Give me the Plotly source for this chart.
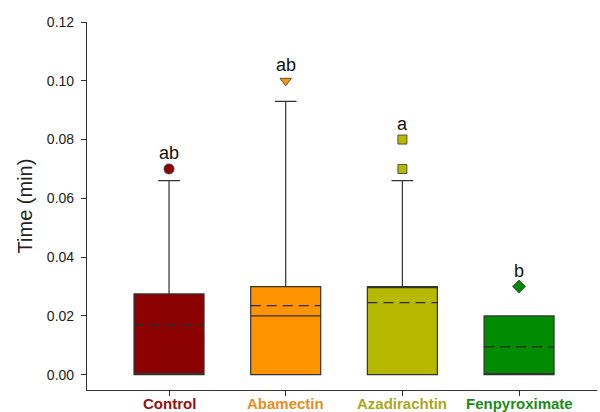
import plotly.graph_objects as go

# Summary statistics per treatment (time in minutes)
treatments = ["Control", "Abamectin", "Azadirachtin", "Fenpyroximate"]
q1 = [0.0, 0.0, 0.0, 0.0]
median = [0.0, 0.020, 0.030, 0.0]
q3 = [0.0275, 0.030, 0.030, 0.020]
lower_whisker = [0.0, 0.0, 0.0, 0.0]
upper_whisker = [0.066, 0.093, 0.066, 0.020]
means = [0.017, 0.0235, 0.0245, 0.0095]

# Outlying observations per treatment
outliers = [[0.070], [0.100], [0.070, 0.080], [0.030]]

# Significance letters
letters = ["ab", "ab", "a", "b"]

fill_colors = ["#8B0000", "#FF9300", "#B7B800", "#008B00"]
label_colors = ["#951010", "#E58D1F", "#A9A81C", "#1A8C1A"]
marker_symbols = ["circle", "triangle-down", "square", "diamond"]
marker_sizes = [10, 10, 9, 10]

BOX_WIDTH = 0.6
FONT = "Liberation Sans, Arial, sans-serif"

fig = go.Figure()

for i, name in enumerate(treatments):
    fig.add_trace(go.Box(
        x=[i],
        q1=[q1[i]], median=[median[i]], q3=[q3[i]],
        lowerfence=[lower_whisker[i]], upperfence=[upper_whisker[i]],
        width=BOX_WIDTH,
        whiskerwidth=0.31,
        fillcolor=fill_colors[i],
        line=dict(color="#333333", width=1.2),
        showlegend=False,
        hoverinfo="skip",
    ))
    # dashed mean line across the box
    fig.add_trace(go.Scatter(
        x=[i - BOX_WIDTH / 2, i + BOX_WIDTH / 2],
        y=[means[i], means[i]],
        mode="lines",
        line=dict(color="#2a2a2a", width=1.3, dash="10px,6px"),
        showlegend=False,
        hoverinfo="skip",
    ))
    fig.add_trace(go.Scatter(
        x=[i] * len(outliers[i]),
        y=outliers[i],
        mode="markers",
        marker=dict(symbol=marker_symbols[i], size=marker_sizes[i],
                    color=fill_colors[i],
                    line=dict(color="#333333", width=0.8)),
        showlegend=False,
        hoverinfo="skip",
    ))
    fig.add_annotation(
        x=i, y=max(outliers[i]), text=letters[i],
        showarrow=False, yanchor="bottom", yshift=4,
        font=dict(family=FONT, size=18, color="#111111"),
    )
    # coloured category label beneath the axis
    fig.add_annotation(
        x=i, xref="x", y=0, yref="paper", text=f"<b>{name}</b>",
        showarrow=False, yanchor="top", yshift=-3,
        font=dict(family=FONT, size=15, color=label_colors[i]),
    )

fig.update_layout(
    width=600, height=412,
    margin=dict(l=87, r=3, t=22, b=22),
    paper_bgcolor="white",
    plot_bgcolor="white",
    font=dict(family=FONT, color="#222222"),
    xaxis=dict(
        tickmode="array",
        tickvals=list(range(len(treatments))),
        showticklabels=False,
        range=[-0.703, 3.668],
        showline=True, linecolor="#333333", linewidth=1.2,
        ticks="outside", ticklen=5, tickcolor="#333333",
        showgrid=False, zeroline=False,
        automargin=False,
    ),
    yaxis=dict(
        range=[-0.0052, 0.12],
        tickvals=[0.0, 0.02, 0.04, 0.06, 0.08, 0.10, 0.12],
        tickformat=".2f",
        showline=True, linecolor="#333333", linewidth=1.2,
        ticks="outside", ticklen=5, tickcolor="#333333",
        ticklabelstandoff=4,
        showgrid=False, zeroline=False,
        tickfont=dict(size=14),
        title=dict(text="Time (min)", font=dict(size=20), standoff=8),
    ),
)

fig.write_html("out.html")
